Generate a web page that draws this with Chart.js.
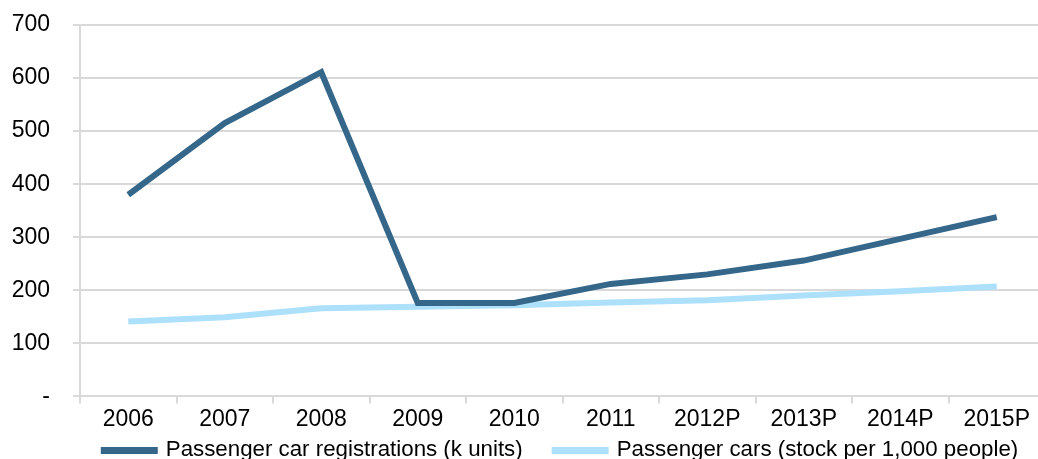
<!DOCTYPE html>
<html>
<head>
<meta charset="utf-8">
<script src="https://cdn.jsdelivr.net/npm/chart.js@4"></script>
<style>
html,body{margin:0;padding:0;background:#fff;overflow:hidden;}
#wrap{width:1038px;height:459px;position:relative;overflow:hidden;}
#c{position:absolute;left:0;top:0;}
</style>
</head>
<body>
<div id="wrap"><canvas id="c" width="1045" height="459"></canvas></div>
<script>
const categories = ['2006','2007','2008','2009','2010','2011','2012P','2013P','2014P','2015P'];
const registrations = [380, 515, 611, 176, 176, 212, 230, 256, 297, 338];
const stockPer1000 = [141, 149, 166, 169, 172, 177, 181, 190, 198, 207];
const yTicks = [0, 100, 200, 300, 400, 500, 600, 700];
const seriesNames = ['Passenger car registrations (k units)', 'Passenger cars (stock per 1,000 people)'];
const seriesColors = ['#35678a', '#ade0fa'];

const FONT = '"Liberation Sans", Arial, sans-serif';
Chart.defaults.font.family = FONT;
Chart.defaults.color = '#000';

const bottomLegend = {
  id: 'bottomLegend',
  afterDraw(chart) {
    const ctx = chart.ctx;
    const ca = chart.chartArea;
    ctx.save();
    ctx.font = '22.3px ' + FONT;
    const sw = 57, gap = 8, between = 29;
    const items = chart.data.datasets.map(d => ({ text: d.label, color: d.borderColor, w: ctx.measureText(d.label).width }));
    let total = 0;
    items.forEach((it, i) => { total += sw + gap + it.w + (i ? between : 0); });
    let x = (ca.left + ca.right) / 2 - 3 - total / 2;
    const yMid = 450;
    items.forEach((it, i) => {
      if (i) x += between;
      ctx.fillStyle = it.color;
      ctx.fillRect(x, yMid - 3, sw, 7);
      x += sw + gap;
      ctx.fillStyle = '#000';
      ctx.textBaseline = 'alphabetic';
      ctx.textAlign = 'left';
      ctx.fillText(it.text, x, 456);
      x += it.w;
    });
    ctx.restore();
  }
};

new Chart(document.getElementById('c'), {
  type: 'line',
  data: {
    labels: categories,
    datasets: [
      { label: seriesNames[0], data: registrations, borderColor: seriesColors[0], backgroundColor: seriesColors[0], borderWidth: 6, pointRadius: 0, tension: 0, borderCapStyle: 'butt', borderJoinStyle: 'miter' },
      { label: seriesNames[1], data: stockPer1000, borderColor: seriesColors[1], backgroundColor: seriesColors[1], borderWidth: 6, pointRadius: 0, tension: 0, borderCapStyle: 'butt', borderJoinStyle: 'miter' }
    ]
  },
  plugins: [bottomLegend],
  options: {
    responsive: false,
    animation: false,
    layout: { padding: { top: 25, right: 0, left: 0, bottom: 24 } },
    plugins: {
      tooltip: { enabled: false },
      legend: { display: false }
    },
    scales: {
      x: {
        offset: true,
        grid: { display: true, drawOnChartArea: false, drawTicks: true, tickLength: 7, color: '#d9d9d9', lineWidth: 2, offset: true },
        border: { display: true, color: '#d9d9d9', width: 2 },
        ticks: { font: { size: 23 }, color: '#000', padding: 2, maxRotation: 0, autoSkip: false }
      },
      y: {
        min: 0, max: 700,
        afterBuildTicks(axis) { axis.ticks = yTicks.map(v => ({ value: v })); },
        afterFit(axis) { axis.width = 80; axis.paddingTop = 0; axis.paddingBottom = 0; },
        grid: { color: '#d9d9d9', lineWidth: 2, tickLength: 7, drawTicks: true },
        border: { display: true, color: '#d9d9d9', width: 2 },
        ticks: {
          font: { size: 23 }, color: '#000', padding: 23,
          callback: v => v === 0 ? '-' : String(v)
        }
      }
    }
  }
});
</script>
</body>
</html>
